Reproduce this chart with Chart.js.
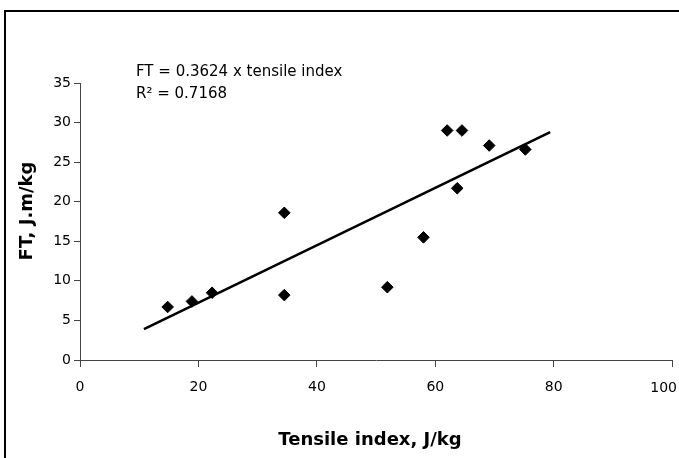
<!DOCTYPE html>
<html lang="en">
<head>
<meta charset="UTF-8" />
<title>FT vs tensile index</title>
<script src="https://cdn.jsdelivr.net/npm/chart.js@4.4.1/dist/chart.umd.min.js"></script>
<style>
html,body{margin:0;padding:0;background:#fff;overflow:hidden}
.chart{width:679px;height:458px;position:relative}
#ftChart{display:block}
</style>
</head>
<body>
<div class="chart"><canvas id="ftChart"></canvas></div>

<script>
/* ── data ──────────────────────────────────────────────────────── */
const tensileIndex = [14.8, 18.9, 22.3, 34.5, 34.5, 51.9, 58.0, 62.0, 63.7, 64.5, 69.1, 75.2];
const ftValues     = [6.7, 7.4, 8.5, 18.6, 8.2, 9.2, 15.5, 29.0, 21.7, 29.0, 27.1, 26.6];
const trendX = [10.8, 79.4];
const trendY = [3.9, 28.8];
const xTicks = [0, 20, 40, 60, 80, 100];
const yTicks = [0, 5, 10, 15, 20, 25, 30, 35];

const eqLines = ['FT = 0.3624 x tensile index', 'R\u00B2 = 0.7168'];
const xTitle = 'Tensile index, J/kg';
const yTitle = 'FT, J.m/kg';

const FONT = '"DejaVu Sans", sans-serif';
const AXIS = '#444';
const lastX = xTicks[xTicks.length - 1];

/* ── frame, equation, axis titles, last x label pulled inside ──── */
const extras = {
  id: 'extras',
  afterDraw(chart){
    const ctx = chart.ctx;
    ctx.save();
    ctx.strokeStyle = '#000'; ctx.lineWidth = 2;
    ctx.beginPath(); ctx.moveTo(5, 470); ctx.lineTo(5, 11); ctx.lineTo(700, 11); ctx.stroke();

    ctx.fillStyle = '#000';
    ctx.textAlign = 'left'; ctx.textBaseline = 'middle';
    ctx.font = '15px ' + FONT;
    ctx.fillText(eqLines[0], 136, 72);
    ctx.fillText(eqLines[1], 136, 94);

    // Excel nudges the end label so it stays on the sheet
    ctx.font = '14px ' + FONT;
    ctx.textAlign = 'right';
    const px = chart.scales.x.getPixelForValue(lastX);
    ctx.fillText(String(lastX), Math.min(px + 14, 677), 388);

    ctx.font = 'bold 18px ' + FONT;
    ctx.textAlign = 'center';
    ctx.fillText(xTitle, 370, 440);
    ctx.translate(27, 211); ctx.rotate(-Math.PI/2);
    ctx.fillText(yTitle, 0, 0);
    ctx.restore();
  }
};

new Chart(document.getElementById('ftChart').getContext('2d'), {
  type: 'scatter',
  data: {
    datasets: [
      {
        label: 'FT',
        data: tensileIndex.map((x, i) => ({x, y: ftValues[i]})),
        pointStyle: 'rectRot', pointRadius: 5.8, pointHoverRadius: 5.8,
        backgroundColor: '#000', borderColor: '#000', borderWidth: 1
      },
      {
        label: 'Trend',
        type: 'line',
        data: trendX.map((x, i) => ({x, y: trendY[i]})),
        borderColor: '#000', borderWidth: 2.6, pointRadius: 0, fill: false
      }
    ]
  },
  options: {
    responsive: true, maintainAspectRatio: false, animation: false,
    layout: {padding: {top: 83, right: -2, left: 0, bottom: 0}},
    plugins: {legend: {display: false}, tooltip: {enabled: false}},
    scales: {
      x: {
        type: 'linear', min: 0, max: 100,
        afterBuildTicks: s => { s.ticks = xTicks.map(v => ({value: v})); },
        afterFit: s => { s.height = 98; s.paddingRight = 0; s.paddingLeft = 0; },
        grid: {drawOnChartArea: false, drawTicks: true, tickLength: 7, color: AXIS},
        border: {color: AXIS, width: 1},
        ticks: {color: '#000', padding: 12, font: {family: FONT, size: 14}, maxRotation: 0,
                callback: v => v === lastX ? '' : v}
      },
      y: {
        min: 0, max: 35,
        afterBuildTicks: s => { s.ticks = yTicks.map(v => ({value: v})); },
        afterFit: s => { s.width = 80; },
        grid: {drawOnChartArea: false, drawTicks: true, tickLength: 6, color: AXIS},
        border: {color: AXIS, width: 1},
        ticks: {color: '#000', padding: 3, font: {family: FONT, size: 14}}
      }
    }
  },
  plugins: [extras]
});
</script>
</body>
</html>
